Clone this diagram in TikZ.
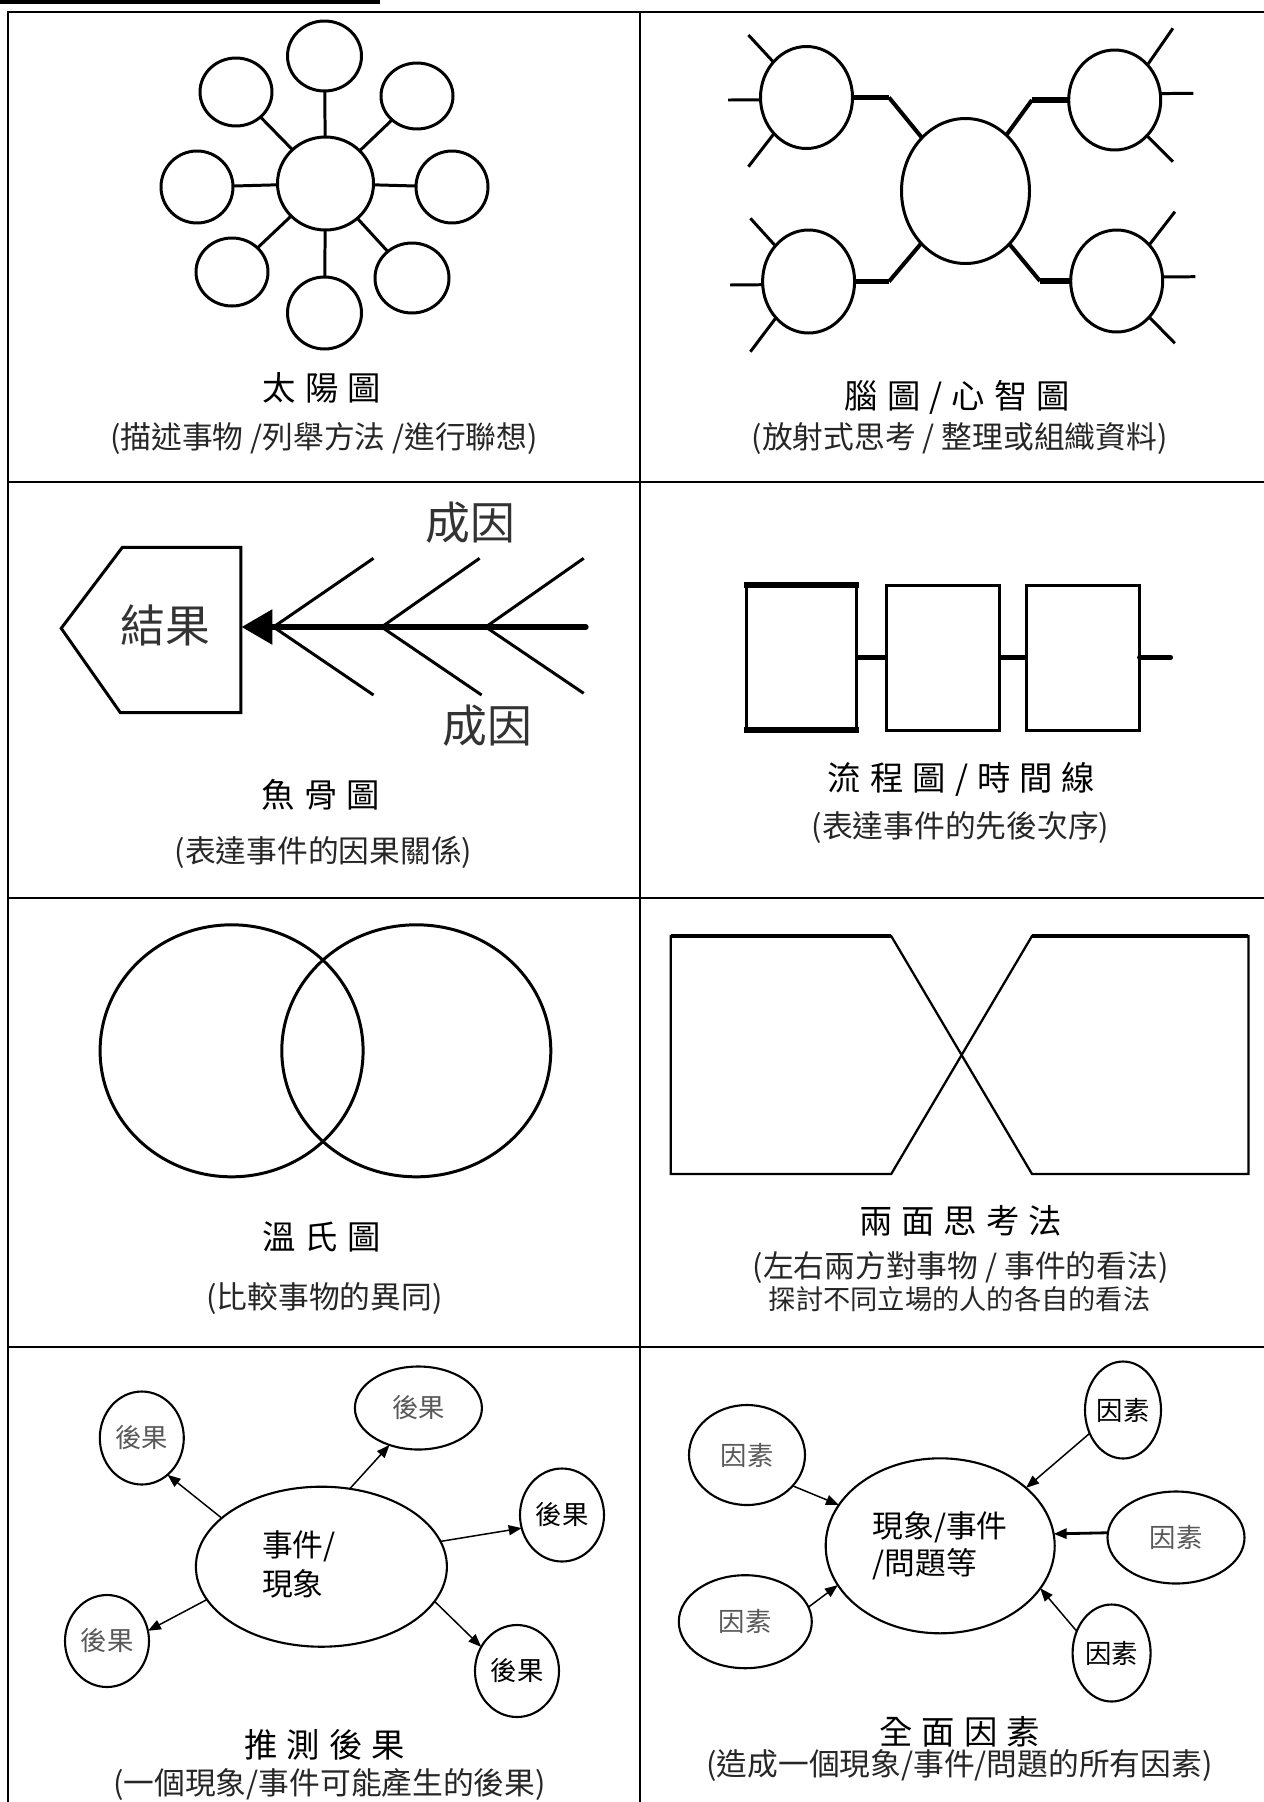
\documentclass[tikz,border=0pt]{standalone}
\usepackage{fontspec}
\setmainfont{Noto Sans CJK TC}
\usetikzlibrary{shapes.geometric,arrows.meta}
\newcommand\gp{\hspace{0.27em}}
\newcommand\pxu{0.02cm}
\begin{document}
\begin{tikzpicture}[x=0.02cm,y=-0.02cm,
  tbl/.style={line width=1.6pt, line cap=rect},
  thk/.style={line width=1.7pt},
  ell/.style 2 args={ellipse, draw, line width=1.7pt, minimum width=#1*\pxu, minimum height=#2*\pxu, inner sep=0pt, outer sep=0pt},
  ellt/.style 2 args={ellipse, draw, line width=1.2pt, minimum width=#1*\pxu, minimum height=#2*\pxu, inner sep=0pt, outer sep=0pt},
  ttl/.style={font=\fontsize{19}{22}\selectfont},
  sub/.style={font=\fontsize{17.5}{21}\selectfont, text=black!85},
  big/.style={font=\fontsize{25.5}{28}\selectfont, text=black!80},
  sat/.style={font=\fontsize{15}{17}\selectfont},
  satg/.style={font=\fontsize{15}{17}\selectfont, text=black!65},
  arr/.style={line width=0.85pt, -{Triangle[length=0.26cm,width=0.2cm]}},
]
\useasboundingbox (0,0) rectangle (1264,1802);
\fill[white] (0,0) rectangle (1264,1802);

% header bar
\fill[black] (0,0) rectangle (380,3.5);

% table
\draw[tbl] (8,1802) -- (8,12) -- (1264,12);
\draw[tbl] (640,12) -- (640,1802);
\draw[tbl] (8,482) -- (1264,482);
\draw[tbl] (8,898) -- (1264,898);
\draw[tbl] (8,1347) -- (1264,1347);

% ---------- cell 1: sun ----------
\node[ell={96}{93}] (c1) at (325.5,183.5) {};
\node[ell={74}{70}] (s1) at (324.5,56) {};
\node[ell={72}{68}] (s2) at (236,92) {};
\node[ell={72}{66}] (s3) at (417,96) {};
\node[ell={72}{72}] (s4) at (197,187) {};
\node[ell={72}{72}] (s5) at (452,187) {};
\node[ell={72}{68}] (s6) at (232,272) {};
\node[ell={74}{70}] (s7) at (412,278) {};
\node[ell={74}{72}] (s8) at (324.5,313) {};
\foreach \i in {1,...,8} \draw[thk] (c1) -- (s\i);
\node[ttl] (t1) at (322,388) {太\gp 陽\gp 圖};
\node[sub] (u1) at (324,438) {(描述事物 /列舉方法 /進行聯想)};

% ---------- cell 2: mind map ----------
\node[ell={128}{145}] (m0) at (965.5,191) {};
\node[ell={92}{102}] (m1) at (806.5,97.5) {};
\node[ell={92}{103}] (m2) at (808.6,281.5) {};
\node[ell={92}{100}] (m3) at (1114.7,100) {};
\node[ell={92}{102}] (m4) at (1116.7,281) {};
\coordinate (k1) at (889,97.5);
\coordinate (k2) at (889,281.5);
\coordinate (k3) at (1032,100);
\coordinate (k4) at (1040,281);
\draw[line width=2.3pt] (k1) -- (m0);
\draw[line width=2.3pt] (k2) -- (m0);
\draw[line width=2.3pt] (k3) -- (m0);
\draw[line width=2.3pt] (k4) -- (m0);
\draw[line width=3.4pt] (m1.east) -- (k1);
\draw[line width=3.4pt] (m2.east) -- (k2);
\draw[line width=3.4pt] (k3) -- (m3.west);
\draw[line width=3.4pt] (k4) -- (m4.west);
% spokes
\coordinate (p11) at (748.4,35);   \coordinate (p12) at (728,100);    \coordinate (p13) at (748.4,166.7);
\coordinate (p21) at (750.4,218.3); \coordinate (p22) at (730,285);   \coordinate (p23) at (750.4,351.7);
\coordinate (p31) at (1172.9,28.3); \coordinate (p32) at (1193.3,93.3); \coordinate (p33) at (1172.9,161.7);
\coordinate (p41) at (1174.9,211.7); \coordinate (p42) at (1195.3,276.7); \coordinate (p43) at (1174.9,343.3);
\draw[thk] (m1.133) -- (p11); \draw[thk] (m1.183) -- (p12); \draw[thk] (m1.228) -- (p13);
\draw[thk] (m2.133) -- (p21); \draw[thk] (m2.184) -- (p22); \draw[thk] (m2.228) -- (p23);
\draw[thk] (m3.47) -- (p31);  \draw[thk] (m3.8) -- (p32);   \draw[thk] (m3.312) -- (p33);
\draw[thk] (m4.48) -- (p41);  \draw[thk] (m4.5) -- (p42);   \draw[thk] (m4.312) -- (p43);
\node[ttl] (t2) at (957.5,397) {腦\gp 圖\gp /\gp 心\gp 智\gp 圖};
\node[sub] (u2) at (959.6,439) {(放射式思考 / 整理或組織資料)};

% ---------- cell 3: fishbone ----------
\coordinate (hTip) at (61.2,628.3);
\coordinate (hTL) at (122.4,547.3);
\coordinate (hTR) at (240.8,547.3);
\coordinate (hBR) at (240.8,712.7);
\coordinate (hBL) at (120.4,712.7);
\draw[thk, line join=miter] (hTip) -- (hTL) -- (hTR) -- (hBR) -- (hBL) -- cycle;
\node[big] (res) at (165,625) {結果};
\coordinate (hR) at (241.5,627);
\coordinate (spE) at (585.7,627);
\coordinate (b1) at (273.5,627); \coordinate (b2) at (381.6,627); \coordinate (b3) at (485.7,627);
\coordinate (u1e) at (373.5,558.3); \coordinate (u2e) at (479.6,558.3); \coordinate (u3e) at (583.7,558.3);
\coordinate (l1e) at (373.5,695); \coordinate (l2e) at (481.6,695); \coordinate (l3e) at (583.7,693.3);
\draw[thk] (b1) -- (u1e); \draw[thk] (b2) -- (u2e); \draw[thk] (b3) -- (u3e);
\draw[thk] (b1) -- (l1e); \draw[thk] (b2) -- (l2e); \draw[thk] (b3) -- (l3e);
\draw[line width=3.4pt, line cap=round, -{Triangle[length=0.62cm,width=0.68cm]}] (spE) -- (hR);
\node[big] (ca) at (470,523) {成因};
\node[big] (cb) at (487,726) {成因};
\node[ttl] (t3) at (321,795) {魚\gp 骨\gp 圖};
\node[sub] (u3) at (323.5,852) {(表達事件的因果關係)};

% ---------- cell 4: flow ----------
\node[rectangle, draw, line width=1.7pt, minimum width=110*\pxu, minimum height=148*\pxu, inner sep=0pt, outer sep=0pt] (f1) at (801.4,657.5) {};
\node[rectangle, draw, line width=1.7pt, minimum width=113*\pxu, minimum height=145*\pxu, inner sep=0pt, outer sep=0pt] (f2) at (942.9,657.5) {};
\node[rectangle, draw, line width=1.7pt, minimum width=113*\pxu, minimum height=145*\pxu, inner sep=0pt, outer sep=0pt] (f3) at (1083,657.5) {};
\draw[line width=3.2pt, line cap=rect] ([yshift=-0.03cm]f1.north west) -- ([yshift=-0.03cm]f1.north east);
\draw[line width=3.2pt, line cap=rect] ([yshift=0.03cm]f1.south west) -- ([yshift=0.03cm]f1.south east);
\coordinate (fEnd) at (1170.6,657.5);
\draw[line width=2.8pt] (f1) -- (f2);
\draw[line width=2.8pt] (f2) -- (f3);
\draw[line width=2.8pt, line cap=round] (f3.east) -- (fEnd);
\node[ttl] (t4) at (961.6,779) {流\gp 程\gp 圖\gp /\gp 時\gp 間\gp 線};
\node[sub] (u4) at (960.6,828) {(表達事件的先後次序)};

% ---------- cell 5: venn ----------
\node[ell={263}{252}] (v1) at (231.6,1050.8) {};
\node[ell={269}{252}] (v2) at (416.3,1050.8) {};
\node[ttl] (t5) at (321.5,1237) {溫\gp 氏\gp 圖};
\node[sub] (u5) at (324.5,1299) {(比較事物的異同)};

% ---------- cell 6: two sides ----------
\coordinate (pA) at (670.8,936);  \coordinate (pB) at (891.2,936);
\coordinate (pC) at (1032,1174);  \coordinate (pD) at (1248.4,1174);
\coordinate (pE) at (1248.4,936); \coordinate (pF) at (1032,936);
\coordinate (pG) at (891.2,1174); \coordinate (pH) at (670.8,1174);
\draw[line width=1.3pt, line join=miter] (pA) -- (pB) -- (pC) -- (pD) -- (pE) -- (pF) -- (pG) -- (pH) -- cycle;
\draw[line width=2pt] (pA) -- (pB);
\draw[line width=2pt] (pF) -- (pE);
\node[ttl] (t6) at (960.6,1221) {兩\gp 面\gp 思\gp 考\gp 法};
\node[sub] (u6) at (960.6,1267) {(左右兩方對事物 / 事件的看法)};
\node[sub, font=\fontsize{15.5}{18}\selectfont] (u6b) at (959.6,1299) {探討不同立場的人的各自的看法};

% ---------- cell 7: consequences ----------
\node[ellt={251}{160}] (c7) at (321.4,1566.7) {};
\node[font=\fontsize{17.5}{22}\selectfont, align=left] (c7t) at (299,1564.5) {事件/\\現象};
\node[ellt={84}{93}, satg] (q1) at (141.8,1438) {後果};
\node[ellt={127}{83}, satg] (q2) at (418.4,1408) {後果};
\node[ellt={84}{93}, sat] (q3) at (562,1515) {後果};
\node[ellt={84}{92}, satg] (q4) at (107,1641) {後果};
\node[ellt={84}{92}, sat] (q5) at (517,1671) {後果};
\draw[arr] (c7.154) -- (q1.305);
\draw[arr] (c7.70) -- (q2.232);
\draw[arr] (c7.12) -- (q3.198);
\draw[arr] (c7.196) -- (q4.14);
\draw[arr] (c7.343) -- (q5.146);
\node[ttl] (t7) at (324.5,1745) {推\gp 測\gp 後\gp 果};
\node[sub] (u7) at (329.6,1784) {(一個現象/事件可能產生的後果)};

% ---------- cell 8: factors ----------
\node[ellt={229}{175}, font=\fontsize{17.5}{21}\selectfont, align=left] (c8) at (940.2,1545.8) {現象/事件\\/問題等};
\node[ellt={116}{100}, satg] (g1) at (747,1455) {因素};
\node[ellt={76}{97}, sat] (g2) at (1123,1410) {因素};
\node[ellt={137}{92}, satg] (g3) at (1176,1537.5) {因素};
\node[ellt={133}{93}, satg] (g4) at (745.3,1621.7) {因素};
\node[ellt={78}{97}, sat] (g5) at (1111.6,1653) {因素};
\draw[arr] (g1.326) -- (c8.158);
\draw[arr] (g2.215) -- (c8.34);
\draw[arr, line width=1.6pt] (g3.176) -- (c8.6);
\draw[arr] (g4.13) -- (c8.201);
\draw[arr] (g5.148) -- (c8.337);
\node[ttl] (t8) at (959.6,1732) {全\gp 面\gp 因\gp 素};
\node[sub] (u8) at (959.5,1766) {(造成一個現象/事件/問題的所有因素)};
\end{tikzpicture}
\end{document}
